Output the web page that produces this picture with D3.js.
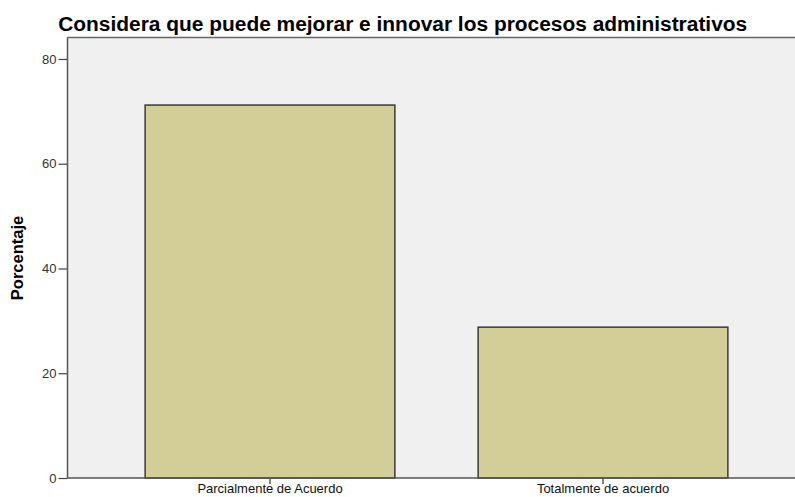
<!DOCTYPE html>
<html>
<head>
<meta charset="utf-8">
<script src="https://cdn.jsdelivr.net/npm/d3@7"></script>
<style>
  body { margin: 0; background: #fff; }
  text { font-family: "Liberation Sans", Arial, sans-serif; }
</style>
</head>
<body>
<script>
var width = 795, height = 497;

// data
const categories = ["Parcialmente de Acuerdo", "Totalmente de acuerdo"];
const percentages = [71.2, 28.8];
const yTicks = [0, 20, 40, 60, 80];
const chartTitle = "Considera que puede mejorar e innovar los procesos administrativos";
const yLabel = "Porcentaje";

// plot frame
const plot = { left: 67.5, top: 37.5, right: 800, bottom: 478 };

var svg = d3.select('body').append('svg')
    .attr('width', width)
    .attr('height', height);

const y = d3.scaleLinear()
    .domain([0, 84.1])
    .range([plot.bottom, plot.top]);

const x = d3.scaleBand()
    .domain(categories)
    .range([103.5, 769.5])
    .paddingInner(0.25)
    .paddingOuter(0.125);

// background
svg.append('rect')
    .attr('x', plot.left)
    .attr('y', plot.top)
    .attr('width', plot.right - plot.left)
    .attr('height', plot.bottom - plot.top)
    .attr('fill', '#f0f0f0');

// top border
svg.append('line')
    .attr('x1', plot.left).attr('x2', plot.right)
    .attr('y1', plot.top).attr('y2', plot.top)
    .attr('stroke', '#666').attr('stroke-width', 1.5);

// bars
svg.append('g')
    .selectAll('rect')
    .data(categories)
    .join('rect')
    .attr('x', d => x(d))
    .attr('y', (d, i) => y(percentages[i]))
    .attr('width', x.bandwidth())
    .attr('height', (d, i) => y(0) - y(percentages[i]))
    .attr('fill', '#d3ce97')
    .attr('stroke', '#3a3a3a')
    .attr('stroke-width', 1.5);

// y axis
const yAxis = svg.append('g')
    .attr('transform', `translate(${plot.left},0)`)
    .call(d3.axisLeft(y).tickValues(yTicks).tickSize(9).tickPadding(2).tickSizeOuter(0));
yAxis.select('.domain').remove();
yAxis.append('line')
    .attr('y1', plot.top).attr('y2', plot.bottom)
    .attr('stroke', '#555').attr('stroke-width', 1.5);
yAxis.selectAll('.tick line').attr('stroke', '#444').attr('stroke-width', 1.2);
yAxis.selectAll('.tick text')
    .attr('fill', '#333')
    .style('font-size', '13px');

// x axis - labels sit right at the bottom edge, like the original
const xAxis = svg.append('g')
    .attr('transform', `translate(0,${plot.bottom})`)
    .call(d3.axisBottom(x).tickSize(6).tickPadding(0).tickSizeOuter(0));
xAxis.select('.domain').remove();
xAxis.append('line')
    .attr('x1', plot.left).attr('x2', plot.right)
    .attr('stroke', '#555').attr('stroke-width', 1.5);
xAxis.selectAll('.tick line').attr('stroke', '#333').attr('stroke-width', 1.2);
xAxis.selectAll('.tick text')
    .attr('fill', '#111')
    .style('font-size', '13px');

// title
svg.append('text')
    .attr('x', 402.7)
    .attr('y', 31)
    .attr('text-anchor', 'middle')
    .attr('textLength', 689)
    .attr('lengthAdjust', 'spacingAndGlyphs')
    .style('font-size', '20px')
    .style('font-weight', 'bold')
    .attr('fill', '#000')
    .text(chartTitle);

// y label
svg.append('text')
    .attr('transform', `translate(23,258) rotate(-90)`)
    .attr('text-anchor', 'middle')
    .style('font-size', '16.5px')
    .style('font-weight', 'bold')
    .attr('fill', '#000')
    .text(yLabel);
</script>
</body>
</html>
